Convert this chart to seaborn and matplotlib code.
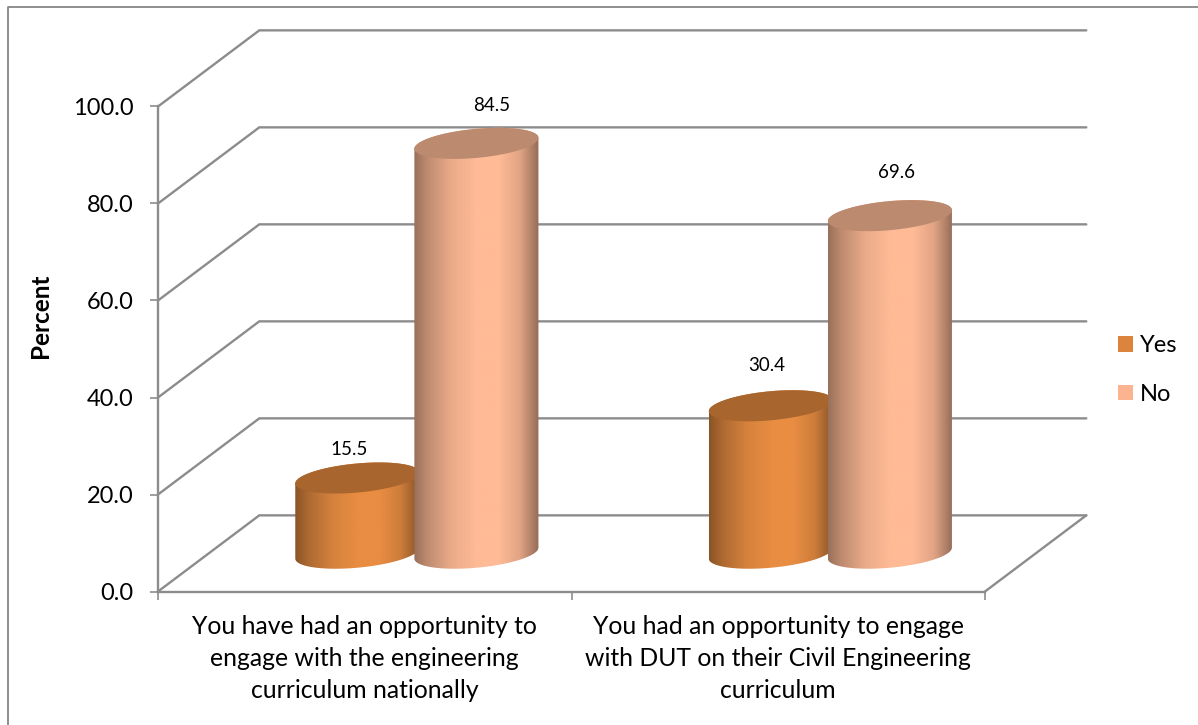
import numpy as np
import pandas as pd
import matplotlib
matplotlib.use("Agg")
import matplotlib.pyplot as plt
import seaborn as sns
from matplotlib.lines import Line2D
from matplotlib.patches import Patch, Polygon
from matplotlib.path import Path

categories = [
    "You have had an opportunity to\nengage with the engineering\ncurriculum nationally",
    "You had an opportunity to engage\nwith DUT on their Civil Engineering\ncurriculum",
]
yes_values = [15.5, 30.4]
no_values = [84.5, 69.6]
y_ticks = [0, 20, 40, 60, 80, 100]

W, H = 1198, 725
GRID = "#8c8c8c"
DEPTH_X = 0.245   # back wall shift, in category units
DEPTH_Y = 15.7    # back wall shift, in percent
MID_X = 0.12      # cylinders stand in the middle of the floor
MID_Y = 7.9
ELL_B = 3.0       # half height of the cylinder ends
ELL_K = 1.13      # tilt of the cylinder ends

# colour of each series: body, top
colors = {"Yes": ("#e88d42", "#a8662e"), "No": ("#ffba96", "#bc8a6f")}
legend_colors = {"Yes": "#dd843c", "No": "#fbb48f"}

# shading across the cylinder, left to right
shade_pos = [0, 0.1, 0.3, 0.5, 0.68, 0.85, 1]
shade_val = [0.6, 0.74, 0.92, 1, 1, 0.88, 0.58]

# nudge of the value labels (px right, px up from the cylinder top)
label_nudge = {15.5: (-8, 29), 84.5: (15, 38), 30.4: (-4, 40), 69.6: (7, 43)}

sns.set_style("white")
plt.rcParams["font.family"] = ["Lato", "DejaVu Sans"]
plt.rcParams["text.color"] = "black"
plt.rcParams["xtick.labelcolor"] = "black"
plt.rcParams["ytick.labelcolor"] = "black"

df = pd.DataFrame({
    "category": categories * 2,
    "series": ["Yes"] * 2 + ["No"] * 2,
    "percent": yes_values + no_values,
})

fig = plt.figure(figsize=(W / 100, H / 100), dpi=100)
ax = fig.add_axes([158 / W, 1 - 591.5 / H, 827 / W, 485 / H])

sns.barplot(data=df, x="category", y="percent", hue="series", hue_order=["Yes", "No"],
            width=0.6, gap=0, legend=False, ax=ax)


def end_points(cx, cy, a, t):
    return np.column_stack([cx + a * np.cos(t), cy + ELL_B * np.sin(t) + ELL_K * np.cos(t)])


def draw_cylinder(x0, width, value, name, z):
    body, top = colors[name]
    a = width / 2
    cx = x0 + a + MID_X
    cy0 = MID_Y
    cy1 = MID_Y + value

    outline = np.vstack([
        end_points(cx, cy0, a, np.linspace(np.pi, 2 * np.pi, 60)),
        end_points(cx, cy1, a, np.linspace(0, np.pi, 60)),
    ])
    pos = np.linspace(0, 1, 200)
    rgb = np.array(matplotlib.colors.to_rgb(body))
    grad = np.interp(pos, shade_pos, shade_val)[None, :, None] * rgb[None, None, :]
    im = ax.imshow(grad, extent=[cx - a, cx + a, cy0 - 6, cy1 + 6], aspect="auto",
                   interpolation="bilinear", zorder=z)
    im.set_clip_path(Path(np.vstack([outline, outline[0]]), closed=True), ax.transData)

    ax.add_patch(Polygon(end_points(cx, cy1, a, np.linspace(0, 2 * np.pi, 120)),
                         closed=True, fc=top, ec="none", zorder=z + 0.1))

    dx, dy = label_nudge[value]
    ax.annotate(f"{value:.1f}", (cx, cy1), xytext=(dx * 0.72, dy * 0.72),
                textcoords="offset points", ha="center", va="center",
                fontsize=13.5, color="black", zorder=10)


# barplot gives the geometry, the cylinders are painted on top of it
for container, name in zip(ax.containers, ["Yes", "No"]):
    for bar, value in zip(container, df[df["series"] == name]["percent"]):
        bar.set_visible(False)
        shift = 0.012 if name == "Yes" else 0
        draw_cylinder(bar.get_x() + shift, bar.get_width(), value, name, 3 if name == "Yes" else 4)

# walls and floor
for y in y_ticks:
    ax.plot([-0.5, -0.5 + DEPTH_X, 1.5 + DEPTH_X], [y, y + DEPTH_Y, y + DEPTH_Y],
            color=GRID, lw=1.7, clip_on=False, zorder=1, solid_joinstyle="miter")
ax.plot([1.5, 1.5 + DEPTH_X], [0, DEPTH_Y], color=GRID, lw=1.7, clip_on=False, zorder=1)

ax.set_xlim(-0.5, 1.5)
ax.set_ylim(0, 100)
ax.set_yticks(y_ticks)
ax.set_yticklabels([f"{v:.1f}" for v in y_ticks], fontsize=17)
ax.set_xticks([0, 1])
ax.set_xticklabels(categories, fontsize=17.8, linespacing=1.46)
ax.set_xticks([-0.5, 0.5, 1.5], minor=True)
ax.tick_params(axis="x", which="major", length=0, pad=17)
ax.tick_params(axis="x", which="minor", bottom=True, length=6, width=1.2, color=GRID)
ax.tick_params(axis="y", length=5.5, width=1.2, color=GRID, pad=12, left=True)
ax.set_xlabel("")
ax.set_ylabel("")
fig.text(40 / W, 1 - 316 / H, "Percent", rotation=90, ha="center", va="center",
         fontsize=17.5, fontweight="bold")

for side in ["top", "right"]:
    ax.spines[side].set_visible(False)
for side in ["left", "bottom"]:
    ax.spines[side].set_color(GRID)
    ax.spines[side].set_linewidth(1.7)

handles = [Patch(fc=legend_colors[n], ec="none", label=n) for n in ["Yes", "No"]]
leg = ax.legend(handles=handles, loc="center left", bbox_to_anchor=(1118 / W, 1 - 370 / H),
                bbox_transform=fig.transFigure, frameon=False, fontsize=17,
                handlelength=0.635, handleheight=0.635, handletextpad=0.3,
                labelspacing=1.15, borderpad=0, borderaxespad=0)

# chart frame, only left and top are inside the picture
fig.add_artist(Line2D([8 / W, 8 / W, 1], [0, 1 - 7 / H, 1 - 7 / H], color="#868686", lw=1.3))

fig.savefig("out.png", dpi=100)
